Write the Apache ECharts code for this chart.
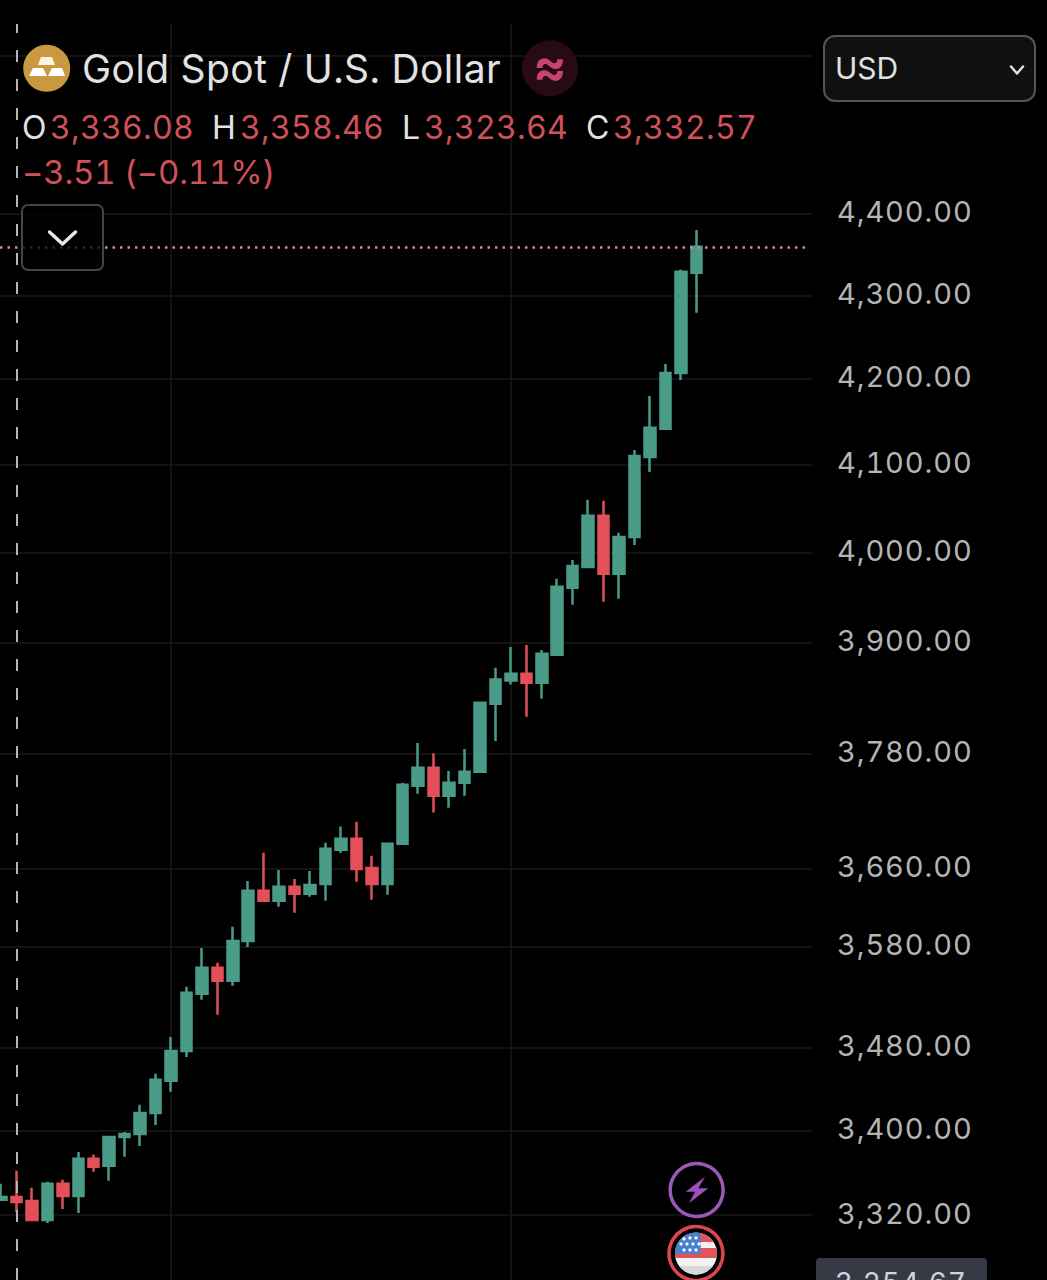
<!DOCTYPE html>
<html><head><meta charset="utf-8">
<style>
html,body{margin:0;padding:0;background:#000}
#c{width:1047px;height:1280px}
#c text{font-feature-settings:"tnum" 1}
#c text[style*="29px"]{letter-spacing:.9px}
#c text[style*="39px"]{letter-spacing:.45px}
#c text[style*="32px"]{letter-spacing:.3px}
#c text[style*="33px"]{letter-spacing:-.2px}
#c text[style*="28px"]{letter-spacing:1px}
</style>
<script src="https://cdn.jsdelivr.net/npm/echarts@6/dist/echarts.min.js"></script>
</head><body><div id="c"></div>
<script>
const opens  = [3334.2,3337.0,3333.2,3315.3,3349.3,3337.9,3372.9,3366.3,3393.7,3396.5,3416.7,3447.7,3476.7,3533.2,3559.0,3546.1,3586.0,3636.9,3626.8,3641.0,3633.9,3644.0,3679.1,3690.6,3660.3,3644.0,3685.4,3746.0,3764.9,3735.6,3749.2,3760.7,3833.5,3858.4,3866.0,3856.2,3886.5,3960.5,3983.8,4041.5,3976.0,4017.5,4108.9,4141.5,4207.1,4327.3];
const closes = [3337.0,3332.3,3315.3,3349.3,3337.9,3372.9,3365.3,3393.7,3396.5,3416.7,3448.7,3476.7,3534.2,3559.0,3546.1,3586.0,3636.9,3626.8,3641.0,3633.9,3643.0,3680.2,3690.6,3659.3,3644.0,3685.4,3747.1,3764.9,3735.6,3749.2,3760.7,3834.6,3859.5,3866.0,3856.2,3887.6,3961.6,3984.9,4041.5,3976.0,4017.5,4110.0,4142.7,4207.1,4328.5,4359.0];
const lows   = [3334.2,3322.8,3315.3,3312.6,3325.7,3321.9,3360.6,3352.1,3374.8,3385.2,3405.1,3437.1,3470.9,3527.3,3512.4,3541.2,3579.9,3626.8,3620.6,3614.5,3630.8,3626.8,3676.0,3646.1,3627.8,3632.8,3684.3,3737.7,3717.8,3723.0,3735.6,3760.7,3793.5,3854.1,3819.5,3838.9,3885.4,3941.6,3983.8,3944.9,3948.3,4008.4,4091.6,4141.5,4198.7,4278.8];
const highs  = [3349.3,3361.6,3345.5,3351.2,3353.1,3379.5,3376.7,3393.7,3398.4,3424.5,3454.5,3490.5,3540.2,3578.9,3564.0,3600.3,3647.1,3676.0,3658.3,3649.1,3657.3,3686.5,3703.2,3708.4,3672.9,3686.5,3749.2,3791.4,3780.5,3761.7,3784.8,3834.6,3872.4,3895.1,3897.3,3891.9,3970.5,3991.6,4059.7,4058.5,4022.1,4117.0,4180.0,4217.8,4330.9,4379.8];
const tickLabels = [3320,3400,3480,3580,3660,3780,3900,4000,4100,4200,4300,4400];
const gridTicks  = [3320,3400,3480,3580,3660,3780,3900,4000,4100,4200,4300,4400,4600];
const lastPrice = 4359.0;
const periodLines = [11,33];
const cursorLine = 1;

const candles = opens.map((o,i)=>[i,o,closes[i],lows[i],highs[i]]);
const UP='#4A9C88', DOWN='#E4505A', RED_TXT='#CF5159', WHITE_TXT='#E2E2E2';
const FONT='Inter';

function text(x,y,t,size,fill,extra){
  return {type:'text',x:x,y:y+2,silent:true,z:extra&&extra.z||50,style:Object.assign({text:t,fontSize:size,fontFamily:FONT,fill:fill,verticalAlign:'middle'},extra&&extra.style||{})};
}
function disc(cx,cy,r,fill,stroke,lw,z){
  return {type:'circle',silent:true,z:z||50,shape:{cx:cx,cy:cy,r:r},style:{fill:fill,stroke:stroke||null,lineWidth:lw||0}};
}
function poly(points,fill,z){
  return {type:'polygon',silent:true,z:z||51,shape:{points:points},style:{fill:fill}};
}
function chevron(cx,cy,w,h,color,lw){
  return {type:'polyline',silent:true,z:52,shape:{points:[[cx-w,cy-h],[cx,cy+h],[cx+w,cy-h]]},style:{stroke:color,lineWidth:lw,fill:null,lineCap:'round',lineJoin:'round'}};
}
function band(cx,cy,r,y0,y1,fill,z){
  const pts=[];
  for(let k=0;k<=10;k++){const y=y0+(y1-y0)*k/10,d=y-cy;pts.push([cx+Math.sqrt(Math.max(0,r*r-d*d)),y]);}
  for(let k=10;k>=0;k--){const y=y0+(y1-y0)*k/10,d=y-cy;pts.push([cx-Math.sqrt(Math.max(0,r*r-d*d)),y]);}
  return poly(pts,fill,z);
}
const fcx=696,fcy=1253.5,fr=21;
const stars=[];
for(const [sx,sy] of [[684,1239],[690,1238],[696,1238],[681,1244],[687,1244],[693,1244],[699,1244],[684,1250],[690,1250],[696,1250]]) stars.push(disc(sx,sy,1.6,'#fff',null,0,55));

const graphics=[
  disc(46.7,68.3,23.5,'#C9993F'),
  poly([[41,57],[52,57],[55,65],[38,65]],'#FBF3DF'),
  poly([[33,68],[43,68],[47,76],[29,76]],'#FFFFFF'),
  poly([[52,68],[62,68],[65,76],[48,76]],'#FFFFFF'),
  text(82,66,'Gold Spot / U.S. Dollar',39,WHITE_TXT),
  disc(550,68.3,28,'#280916'),
  text(550,64,'≈',50,'#C9436E',{style:{align:'center',fontWeight:'bold'}}),
  text(22,125,'O',32,WHITE_TXT), text(50,125,'3,336.08',32,RED_TXT),
  text(212,125,'H',32,WHITE_TXT), text(240,125,'3,358.46',32,RED_TXT),
  text(402,125,'L',32,WHITE_TXT), text(424,125,'3,323.64',32,RED_TXT),
  text(586,125,'C',32,WHITE_TXT), text(613,125,'3,332.57',32,RED_TXT),
  text(22,170,'−3.51 (−0.11%)',33,RED_TXT),
  {type:'rect',silent:true,z:50,shape:{x:22,y:205,width:81,height:65,r:6},style:{fill:'rgba(0,0,0,0.75)',stroke:'#444',lineWidth:2}},
  chevron(62.5,238,13,6,'#E8E8E8',3.5),
  {type:'rect',silent:true,z:50,shape:{x:824,y:36,width:211,height:65,r:11},style:{fill:'#101010',stroke:'#555',lineWidth:2}},
  text(835,66,'USD',30,'#E0E0E0'),
  chevron(1017,70,6,3.5,'#E0E0E0',2.5),
  disc(696.7,1190,26.5,'#000','#9B59B6',3.5),
  poly([[705,1176.7],[685.7,1191.7],[695,1191.7],[689,1203.3],[708.3,1188.3],[698.3,1188.3]],'#9B4FC0'),
  disc(fcx,fcy,27,'#000','#D9484F',3.5),
  disc(fcx,fcy,fr,'#F2F2F2',null,0,51),
  band(fcx,fcy,fr,1233,1242,'#E0555A',52),
  band(fcx,fcy,fr,1248,1258,'#E0555A',52),
  band(fcx,fcy,fr,1266,1275,'#D8D8DC',52),
  {type:'polygon',silent:true,z:53,shape:{points:(function(){const p=[[700.7,1233],[700.7,1254]];for(let k=0;k<=10;k++){const y=1254-21*k/10,d=y-fcy;p.push([fcx-Math.sqrt(Math.max(0,fr*fr-d*d)),y]);}return p;})()},style:{fill:'#4A7FD0'}},
  ...stars,
  {type:'rect',silent:true,z:50,shape:{x:816,y:1258,width:171,height:30,r:4},style:{fill:'#363A45'}},
  text(835,1281,'3,254.67',28,'#D1D4DC')
];

const markData=[
  {xAxis:cursorLine,lineStyle:{color:'#B5B5B5',width:2,type:[12,17]}},
  [{xAxis:-0.0647,yAxis:lastPrice,lineStyle:{color:'#D08A96',width:2.5,type:[2.5,5]}},{xAxis:52.23,yAxis:lastPrice}]
];

const chart=echarts.init(document.getElementById('c'),null,{renderer:'svg',width:1047,height:1280});
chart.setOption({
  backgroundColor:'#000',
  animation:false,
  grid:{left:0,top:24,width:812,height:1256,containLabel:false},
  xAxis:{type:'value',min:-0.0647,max:52.49,show:true,
    axisLine:{show:false},axisLabel:{show:false},
    axisTick:{show:false,customValues:periodLines},
    splitLine:{show:true,lineStyle:{color:'#191919',width:1.5}}},
  yAxis:{type:'log',logBase:10,min:3259.9,max:4640.9,position:'right',scale:true,
    axisLine:{show:false},
    axisTick:{show:false,customValues:gridTicks},
    splitLine:{show:true,lineStyle:{color:'#181818',width:1.5}},
    axisLabel:{show:true,customValues:tickLabels,margin:25,color:'#B4B4B4',fontFamily:FONT,fontSize:29,verticalAlign:'bottom',lineHeight:4,hideOverlap:false,
      formatter:v=>Number(v).toLocaleString('en-US',{minimumFractionDigits:2,maximumFractionDigits:2})}
  },
  graphic:{elements:graphics},
  series:[{
    type:'candlestick',data:candles,barWidth:11,encode:{x:0,y:[1,2,3,4]},
    itemStyle:{color:UP,color0:DOWN,borderColor:UP,borderColor0:DOWN,borderWidth:2.5},
    markLine:{silent:true,animation:false,symbol:'none',label:{show:false},data:markData}
  }]
});
</script></body></html>
